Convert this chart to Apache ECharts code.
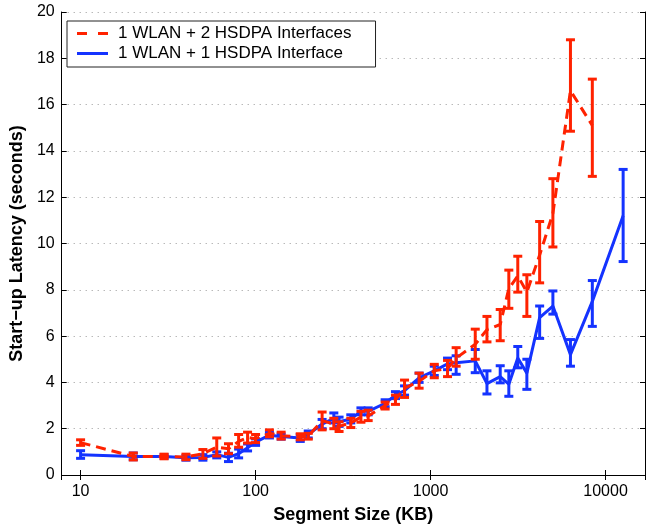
<!DOCTYPE html>
<html>
<head>
<meta charset="utf-8">
<script src="https://cdn.jsdelivr.net/npm/echarts@6/dist/echarts.min.js"></script>
<style>
  html, body { margin: 0; padding: 0; background: #fff; }
  #chart { width: 646px; height: 529px; }
</style>
</head>
<body>
<div id="chart"></div>
<script>
// segment sizes (KB), shared by both runs; the 2-HSDPA run has no point at the last size
var segmentSizes = [10, 20, 30, 40, 50, 60, 70, 80, 90, 100, 120, 140, 180, 200, 240, 280, 300, 350, 400, 440,
  550, 630, 710, 860, 1050, 1250, 1400, 1800, 2100, 2500, 2800, 3150, 3550, 4200, 5000, 6300, 8400, 12600]

// 1 WLAN + 2 HSDPA
var twoHsdpaMean = [1.4, 0.8, 0.8, 0.78, 0.92, 1.2, 1.13, 1.45, 1.62, 1.57, 1.8, 1.7, 1.65, 1.68, 2.35, 2.2, 2.1, 2.25, 2.5, 2.55,
  3.0, 3.25, 3.75, 4.05, 4.5, 4.6, 5.05, 5.65, 6.28, 6.5, 8.05, 8.6, 7.9, 9.5, 11.3, 16.6, 15.1]
var twoHsdpaLow = [1.28, 0.65, 0.7, 0.66, 0.72, 0.82, 0.92, 1.2, 1.38, 1.4, 1.65, 1.55, 1.52, 1.55, 1.95, 2.0, 1.88, 2.05, 2.28, 2.35,
  2.85, 3.05, 3.35, 3.75, 4.2, 4.25, 4.7, 5.0, 5.75, 5.8, 7.2, 7.9, 6.85, 8.3, 9.85, 14.85, 12.9]
var twoHsdpaHigh = [1.52, 0.95, 0.9, 0.9, 1.1, 1.6, 1.35, 1.75, 1.85, 1.75, 1.95, 1.85, 1.78, 1.8, 2.72, 2.45, 2.3, 2.45, 2.75, 2.8,
  3.15, 3.45, 4.1, 4.4, 4.78, 4.95, 5.5, 6.3, 6.85, 7.15, 8.85, 9.45, 8.65, 10.95, 12.8, 18.8, 17.1]

// 1 WLAN + 1 HSDPA
var oneHsdpaMean = [0.88, 0.8, 0.8, 0.74, 0.76, 0.88, 0.76, 0.92, 1.18, 1.42, 1.72, 1.66, 1.6, 1.75, 2.2, 2.45, 2.3, 2.42, 2.75, 2.75,
  3.1, 3.45, 3.65, 4.2, 4.5, 4.8, 4.85, 4.93, 3.95, 4.25, 3.92, 5.05, 4.4, 6.8, 7.3, 5.2, 7.5, 11.2]
var oneHsdpaLow = [0.72, 0.66, 0.72, 0.64, 0.64, 0.74, 0.58, 0.74, 1.04, 1.28, 1.6, 1.55, 1.45, 1.6, 2.0, 2.25, 2.1, 2.25, 2.6, 2.6,
  2.95, 3.3, 3.45, 4.0, 4.3, 4.55, 4.35, 4.42, 3.5, 3.98, 3.4, 4.63, 3.7, 5.9, 6.95, 4.7, 6.42, 9.22]
var oneHsdpaHigh = [1.05, 0.95, 0.88, 0.84, 0.88, 1.0, 0.94, 1.12, 1.34, 1.56, 1.84, 1.77, 1.75, 1.9, 2.4, 2.68, 2.5, 2.6, 2.9, 2.9,
  3.25, 3.6, 3.85, 4.4, 4.7, 5.05, 5.15, 5.42, 4.5, 4.72, 4.5, 5.55, 5.0, 7.3, 7.95, 5.85, 8.4, 13.2]

var yTicks = [0, 2, 4, 6, 8, 10, 12, 14, 16, 18, 20]

var RED = '#ff2200'
var BLUE = '#1433ff'
var FONT = 'Liberation Sans, Arial, Helvetica, sans-serif'

function points (mean) {
  return mean.map(function (v, i) { return [segmentSizes[i], v] })
}

function bars (low, high) {
  return low.map(function (v, i) { return [segmentSizes[i], v, high[i]] })
}

function errorBar (color) {
  return function (params, api) {
    var x = api.value(0)
    var lo = api.coord([x, api.value(1)])
    var hi = api.coord([x, api.value(2)])
    var cap = 4.5
    var style = { stroke: color, lineWidth: 3, fill: null }
    return {
      type: 'group',
      children: [
        { type: 'line', shape: { x1: lo[0], y1: lo[1], x2: hi[0], y2: hi[1] }, style: style },
        { type: 'line', shape: { x1: lo[0] - cap, y1: lo[1], x2: lo[0] + cap, y2: lo[1] }, style: style },
        { type: 'line', shape: { x1: hi[0] - cap, y1: hi[1], x2: hi[0] + cap, y2: hi[1] }, style: style }
      ]
    }
  }
}

var tickLabel = { fontFamily: FONT, fontSize: 16, color: '#000' }
var axisLine = { show: true, lineStyle: { color: '#000', width: 1 } }
var tickIn = { show: true, inside: true, length: 5, lineStyle: { color: '#000' } }
var titleStyle = { fontFamily: FONT, fontSize: 18, fontWeight: 'bold', color: '#000' }

var chart = echarts.init(document.getElementById('chart'))
chart.setOption({
  animation: false,
  backgroundColor: '#fff',
  grid: { left: 57, right: 1, top: 12, bottom: 51 },
  legend: {
    data: [
      { name: '1 WLAN + 2 HSDPA Interfaces', icon: 'path://M0,0h10v3h-10zM21,0h10v3h-10z' },
      { name: '1 WLAN + 1 HSDPA Interface', icon: 'path://M0,0h31v3h-31z' }
    ],
    orient: 'vertical',
    left: 67,
    top: 21,
    padding: [4, 24, 5, 10],
    itemWidth: 31,
    itemHeight: 3,
    itemGap: 3,
    borderColor: '#222',
    borderWidth: 1,
    backgroundColor: '#fff',
    textStyle: { fontFamily: FONT, fontSize: 17, lineHeight: 17, color: '#000', padding: [0, 0, 0, 5] }
  },
  xAxis: [
    {
      type: 'log',
      logBase: 10,
      min: 7.8,
      max: 16800,
      name: 'Segment Size (KB)',
      nameLocation: 'middle',
      nameGap: 31,
      nameTextStyle: titleStyle,
      axisLine: axisLine,
      axisTick: tickIn,
      minorTick: { show: false },
      splitLine: { show: false },
      axisLabel: Object.assign({
        margin: 9,
        showMinLabel: false,
        showMaxLabel: false,
        formatter: function (v) { return String(Math.round(v)) }
      }, tickLabel)
    },
    {
      type: 'log',
      logBase: 10,
      min: 7.8,
      max: 16800,
      position: 'top',
      axisLine: axisLine,
      axisTick: tickIn,
      splitLine: { show: false },
      axisLabel: { show: false }
    }
  ],
  yAxis: [
    {
      type: 'value',
      min: yTicks[0],
      max: yTicks[yTicks.length - 1],
      interval: 2,
      name: 'Start−up Latency (seconds)',
      nameLocation: 'middle',
      nameGap: 28,
      nameTextStyle: titleStyle,
      axisLine: axisLine,
      axisTick: tickIn,
      axisLabel: Object.assign({ margin: 7 }, tickLabel),
      splitLine: { show: true, lineStyle: { color: '#999', type: [1, 5], width: 1 } }
    },
    {
      type: 'value',
      min: yTicks[0],
      max: yTicks[yTicks.length - 1],
      interval: 2,
      position: 'right',
      axisLine: axisLine,
      axisTick: tickIn,
      axisLabel: { show: false },
      splitLine: { show: false }
    }
  ],
  series: [
    {
      name: '1 WLAN + 2 HSDPA Interfaces',
      type: 'line',
      z: 4,
      symbol: 'none',
      data: points(twoHsdpaMean),
      itemStyle: { color: RED },
      lineStyle: { color: RED, width: 3, type: [10, 6] }
    },
    {
      name: '1 WLAN + 1 HSDPA Interface',
      type: 'line',
      z: 2,
      symbol: 'none',
      data: points(oneHsdpaMean),
      itemStyle: { color: BLUE },
      lineStyle: { color: BLUE, width: 3 }
    },
    {
      name: 'err2',
      type: 'custom',
      z: 5,
      renderItem: errorBar(RED),
      encode: { x: 0, y: [1, 2] },
      data: bars(twoHsdpaLow, twoHsdpaHigh)
    },
    {
      name: 'err1',
      type: 'custom',
      z: 3,
      renderItem: errorBar(BLUE),
      encode: { x: 0, y: [1, 2] },
      data: bars(oneHsdpaLow, oneHsdpaHigh)
    }
  ]
})
</script>
</body>
</html>
